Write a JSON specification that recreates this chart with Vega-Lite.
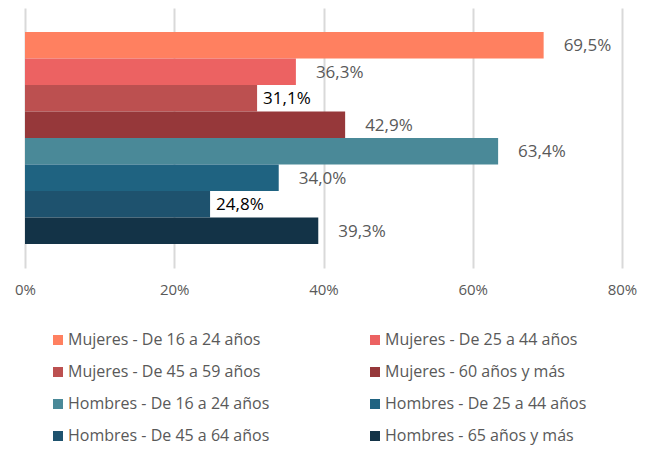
{
  "$schema": "https://vega.github.io/schema/vega-lite/v6.json",
  "width": 597,
  "height": 260,
  "autosize": "none",
  "padding": {"left": 25, "top": 8, "right": 25, "bottom": 182},
  "config": {
    "locale": {"number": {"decimal": ",", "thousands": ".", "grouping": [3], "currency": ["", " €"]}},
    "font": "Open Sans",
    "view": {"stroke": null},
    "background": "white"
  },
  "data": {
    "values": [
      {"cat": "Mujeres - De 16 a 24 años", "v": 0.695},
      {"cat": "Mujeres - De 25 a 44 años", "v": 0.363},
      {"cat": "Mujeres - De 45 a 59 años", "v": 0.311},
      {"cat": "Mujeres - 60 años y más", "v": 0.429},
      {"cat": "Hombres - De 16 a 24 años", "v": 0.634},
      {"cat": "Hombres - De 25 a 44 años", "v": 0.340},
      {"cat": "Hombres - De 45 a 64 años", "v": 0.248},
      {"cat": "Hombres - 65 años y más", "v": 0.393}
    ]
  },
  "encoding": {
    "y": {
      "field": "cat",
      "type": "nominal",
      "sort": null,
      "axis": null,
      "scale": {"paddingInner": 0, "paddingOuter": 0.9}
    },
    "x": {
      "field": "v",
      "type": "quantitative",
      "scale": {"domain": [0, 0.8], "nice": false},
      "axis": {
        "title": null,
        "format": ".0%",
        "values": [0, 0.2, 0.4, 0.6, 0.8],
        "domain": false,
        "ticks": false,
        "grid": true,
        "gridColor": "#d9d9d9",
        "gridWidth": 2,
        "labelFontSize": 15,
        "labelColor": "#595959",
        "labelPadding": 14,
        "labelFlush": false
      }
    }
  },
  "layer": [
    {
      "mark": {"type": "bar", "x": 1},
      "encoding": {
        "color": {
          "field": "cat",
          "type": "nominal",
          "sort": null,
          "scale": {
            "domain": ["Mujeres - De 16 a 24 años", "Mujeres - De 25 a 44 años", "Mujeres - De 45 a 59 años", "Mujeres - 60 años y más", "Hombres - De 16 a 24 años", "Hombres - De 25 a 44 años", "Hombres - De 45 a 64 años", "Hombres - 65 años y más"],
            "range": ["#FF8060", "#EC6262", "#BC5050", "#96383A", "#4A8998", "#1F6381", "#1E526E", "#133347"]
          },
          "legend": {
            "title": null,
            "orient": "none",
            "legendX": 25,
            "legendY": 324,
            "direction": "horizontal",
            "columns": 2,
            "columnPadding": 97,
            "rowPadding": 16,
            "symbolType": "square",
            "symbolSize": 100,
            "symbolStrokeWidth": 0,
            "symbolOffset": 0,
            "labelOffset": 2,
            "labelFontSize": 16,
            "labelColor": "#595959",
            "labelLimit": 300
          }
        }
      }
    },
    {
      "transform": [{"filter": "datum.v >= 0.33"}],
      "mark": {"type": "text", "align": "left", "baseline": "middle", "dx": 20, "dy": 1, "fontSize": 17, "color": "#595959"},
      "encoding": {"text": {"field": "v", "type": "quantitative", "format": ".1%"}}
    },
    {
      "transform": [{"filter": "datum.v < 0.33"}],
      "mark": {"type": "text", "align": "left", "baseline": "middle", "dx": 6, "dy": 1, "fontSize": 17, "color": "#000000"},
      "encoding": {"text": {"field": "v", "type": "quantitative", "format": ".1%"}}
    }
  ]
}
